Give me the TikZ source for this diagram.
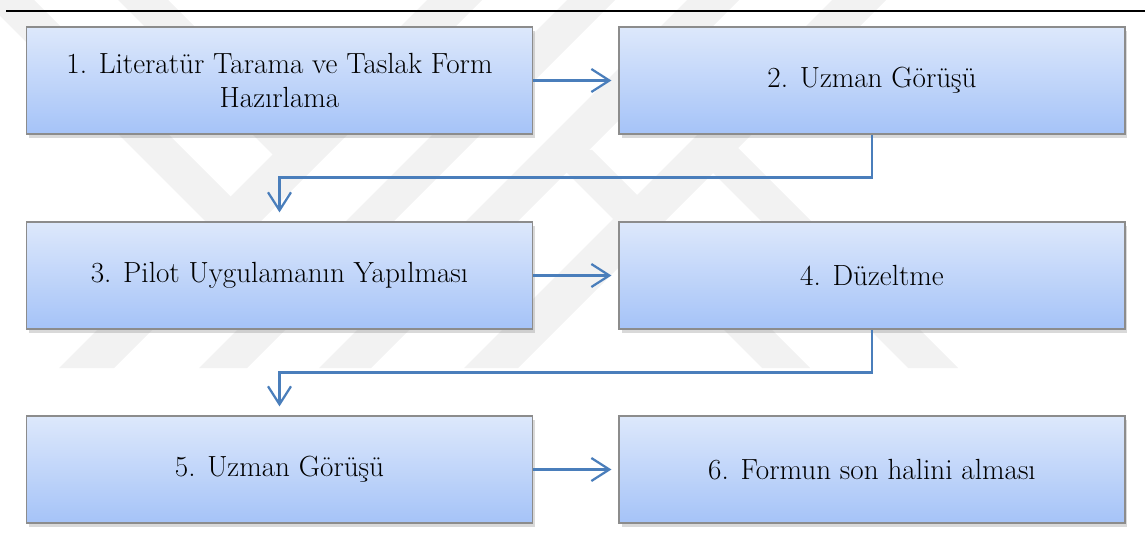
\documentclass[tikz,border=0pt]{standalone}
\usetikzlibrary{arrows.meta, shadows, positioning}
\definecolor{boxtop}{HTML}{DDE8FB}
\definecolor{boxbottom}{HTML}{A5C3F8}
\definecolor{boxedge}{HTML}{8C8C8C}
\definecolor{flowblue}{HTML}{4A7EBB}
\definecolor{markgray}{HTML}{F2F2F2}

\begin{document}
\begin{tikzpicture}[x=0.02cm, y=-0.02cm,
    stagebox/.style={draw=boxedge, line width=0.025cm,
      top color=boxtop, bottom color=boxbottom,
      minimum width=10.12cm, minimum height=2.14cm,
      align=center, inner sep=0pt,
      font=\fontsize{16.6}{19.5}\selectfont,
      drop shadow={shadow xshift=0.05cm, shadow yshift=-0.08cm, opacity=0.3}},
    flow/.style={draw=flowblue, line width=0.045cm,
      -{Straight Barb[length=0.36cm, width=0.46cm]}}]
  \useasboundingbox (0,0) rectangle (1145,547);

  % Watermark bands in the background
  \foreach \xl/\w in {427/55, 567/48, 687/52, 832/54}
    \fill[markgray] (\xl,0) -- ++(\w,0) -- ++(-368,368) -- ++(-\w,0) -- cycle;
  \fill[markgray] (-16,0) -- (34,0) -- (284,250) -- (234,250) -- cycle;
  \fill[markgray] (118,0) -- (168,0) -- (325,157) -- (275,157) -- cycle;
  \fill[markgray] (544,150) -- (592,150) -- (810,368) -- (762,368) -- cycle;
  \fill[markgray] (686,146) -- (736,146) -- (958,368) -- (908,368) -- cycle;

  % Rule at the top
  \draw[line width=0.045cm] (6,11) -- (1145,11);

  % Stages
  \node[stagebox] (lit)   at (279.5,80.5)  {1. Literatür Tarama ve Taslak Form\\Hazırlama};
  \node[stagebox] (exp1)  at (872,80.5)    {2. Uzman Görüşü};
  \node[stagebox] (pilot) at (279.5,275.5) {3. Pilot Uygulamanın Yapılması};
  \node[stagebox] (fix)   at (872,275.5)   {4. Düzeltme};
  \node[stagebox] (exp2)  at (279.5,469.5) {5. Uzman Görüşü};
  \node[stagebox] (final) at (872,469.5)   {6. Formun son halini alması};

  % Flow between the stages
  \draw[flow, shorten >=0.14cm] (lit) -- (exp1);
  \draw[flow, shorten >=0.18cm] (exp1.south) -- ++(0,43) -| (pilot.north);
  \draw[flow, shorten >=0.14cm] (pilot) -- (fix);
  \draw[flow, shorten >=0.18cm] (fix.south) -- ++(0,43) -| (exp2.north);
  \draw[flow, shorten >=0.14cm] (exp2) -- (final);
\end{tikzpicture}
\end{document}
